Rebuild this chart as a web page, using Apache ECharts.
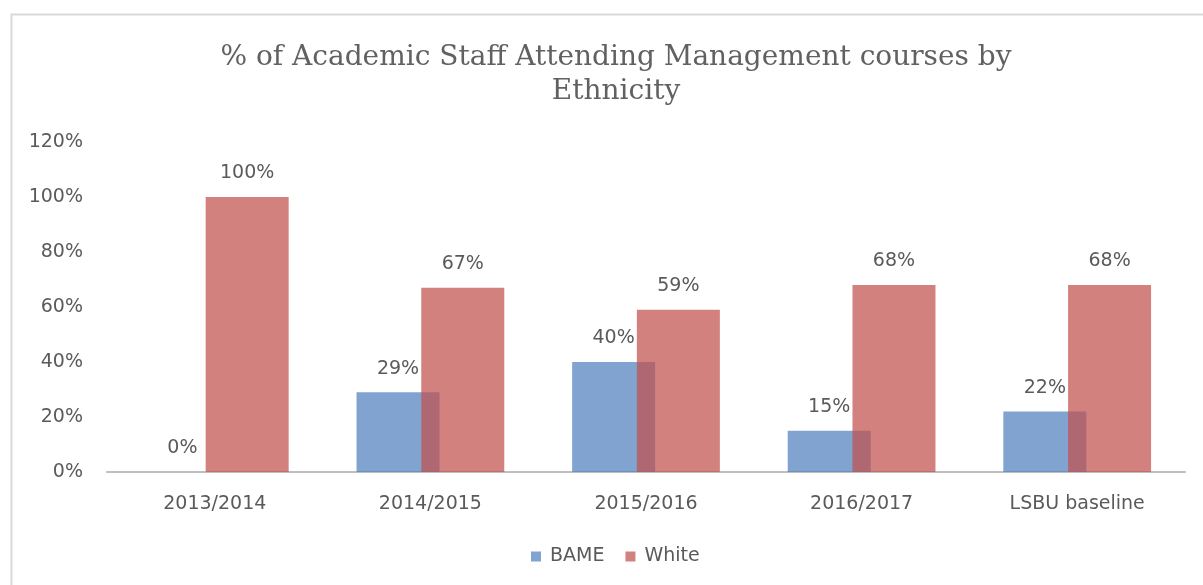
<!DOCTYPE html>
<html>
<head>
<meta charset="utf-8">
<script src="https://cdn.jsdelivr.net/npm/echarts@6/dist/echarts.min.js"></script>
<style>
  html, body { margin: 0; padding: 0; background: #ffffff; }
  #chart { width: 1203px; height: 585px; }
</style>
</head>
<body>
<div id="chart"></div>
<script>
// Academic staff attending management courses, share by ethnicity
const categories = ['2013/2014', '2014/2015', '2015/2016', '2016/2017', 'LSBU baseline'];
const bameValues = [0, 29, 40, 15, 22];
const whiteValues = [100, 67, 59, 68, 68];
const yTicks = [0, 20, 40, 60, 80, 100, 120];

const textColor = '#5a5a5a';
const labelFont = 'DejaVu Sans';

const chart = echarts.init(document.getElementById('chart'), null, { renderer: 'canvas' });

const valueLabel = {
  show: true,
  position: 'top',
  distance: 14,
  color: textColor,
  fontFamily: labelFont,
  fontSize: 19,
  formatter: p => p.value + '%'
};

chart.setOption({
  backgroundColor: '#ffffff',
  animation: false,
  graphic: [{
    type: 'polyline',
    silent: true,
    shape: { points: [[11.5, 700], [11.5, 14.5], [1300, 14.5]] },
    style: { fill: 'none', stroke: '#d9d9d9', lineWidth: 2 }
  }],
  title: {
    text: '% of Academic Staff Attending Management courses by\nEthnicity',
    left: 611,
    textAlign: 'center',
    top: 36,
    textStyle: {
      fontFamily: 'DejaVu Serif',
      fontWeight: 'normal',
      fontSize: 28,
      lineHeight: 34,
      color: '#616161'
    }
  },
  legend: {
    data: ['BAME', 'White'],
    left: 531,
    top: 547,
    padding: 0,
    itemWidth: 10,
    itemHeight: 10,
    itemGap: 21,
    icon: 'rect',
    textStyle: { color: textColor, fontFamily: labelFont, fontSize: 19, padding: [0, 0, 0, 4] }
  },
  grid: { left: 107, right: 18, top: 142, bottom: 113 },
  xAxis: {
    type: 'category',
    data: categories,
    axisLine: { lineStyle: { color: '#bfbfbf', width: 2 } },
    axisTick: { show: false },
    axisLabel: { color: textColor, fontFamily: labelFont, fontSize: 19, margin: 23 }
  },
  yAxis: {
    type: 'value',
    min: yTicks[0],
    max: yTicks[yTicks.length - 1],
    interval: yTicks[1] - yTicks[0],
    splitLine: { show: false },
    axisLine: { show: false },
    axisTick: { show: false },
    axisLabel: {
      color: textColor,
      fontFamily: labelFont,
      fontSize: 19,
      margin: 24,
      formatter: v => v + '%'
    }
  },
  series: [
    {
      name: 'BAME',
      type: 'bar',
      data: bameValues,
      barWidth: 83,
      barGap: '-22%',
      itemStyle: { color: 'rgba(79,129,189,0.72)' },
      label: valueLabel
    },
    {
      name: 'White',
      type: 'bar',
      data: whiteValues,
      barWidth: 83,
      barGap: '-22%',
      itemStyle: { color: 'rgba(192,80,77,0.72)' },
      label: valueLabel
    }
  ]
});
</script>
</body>
</html>
